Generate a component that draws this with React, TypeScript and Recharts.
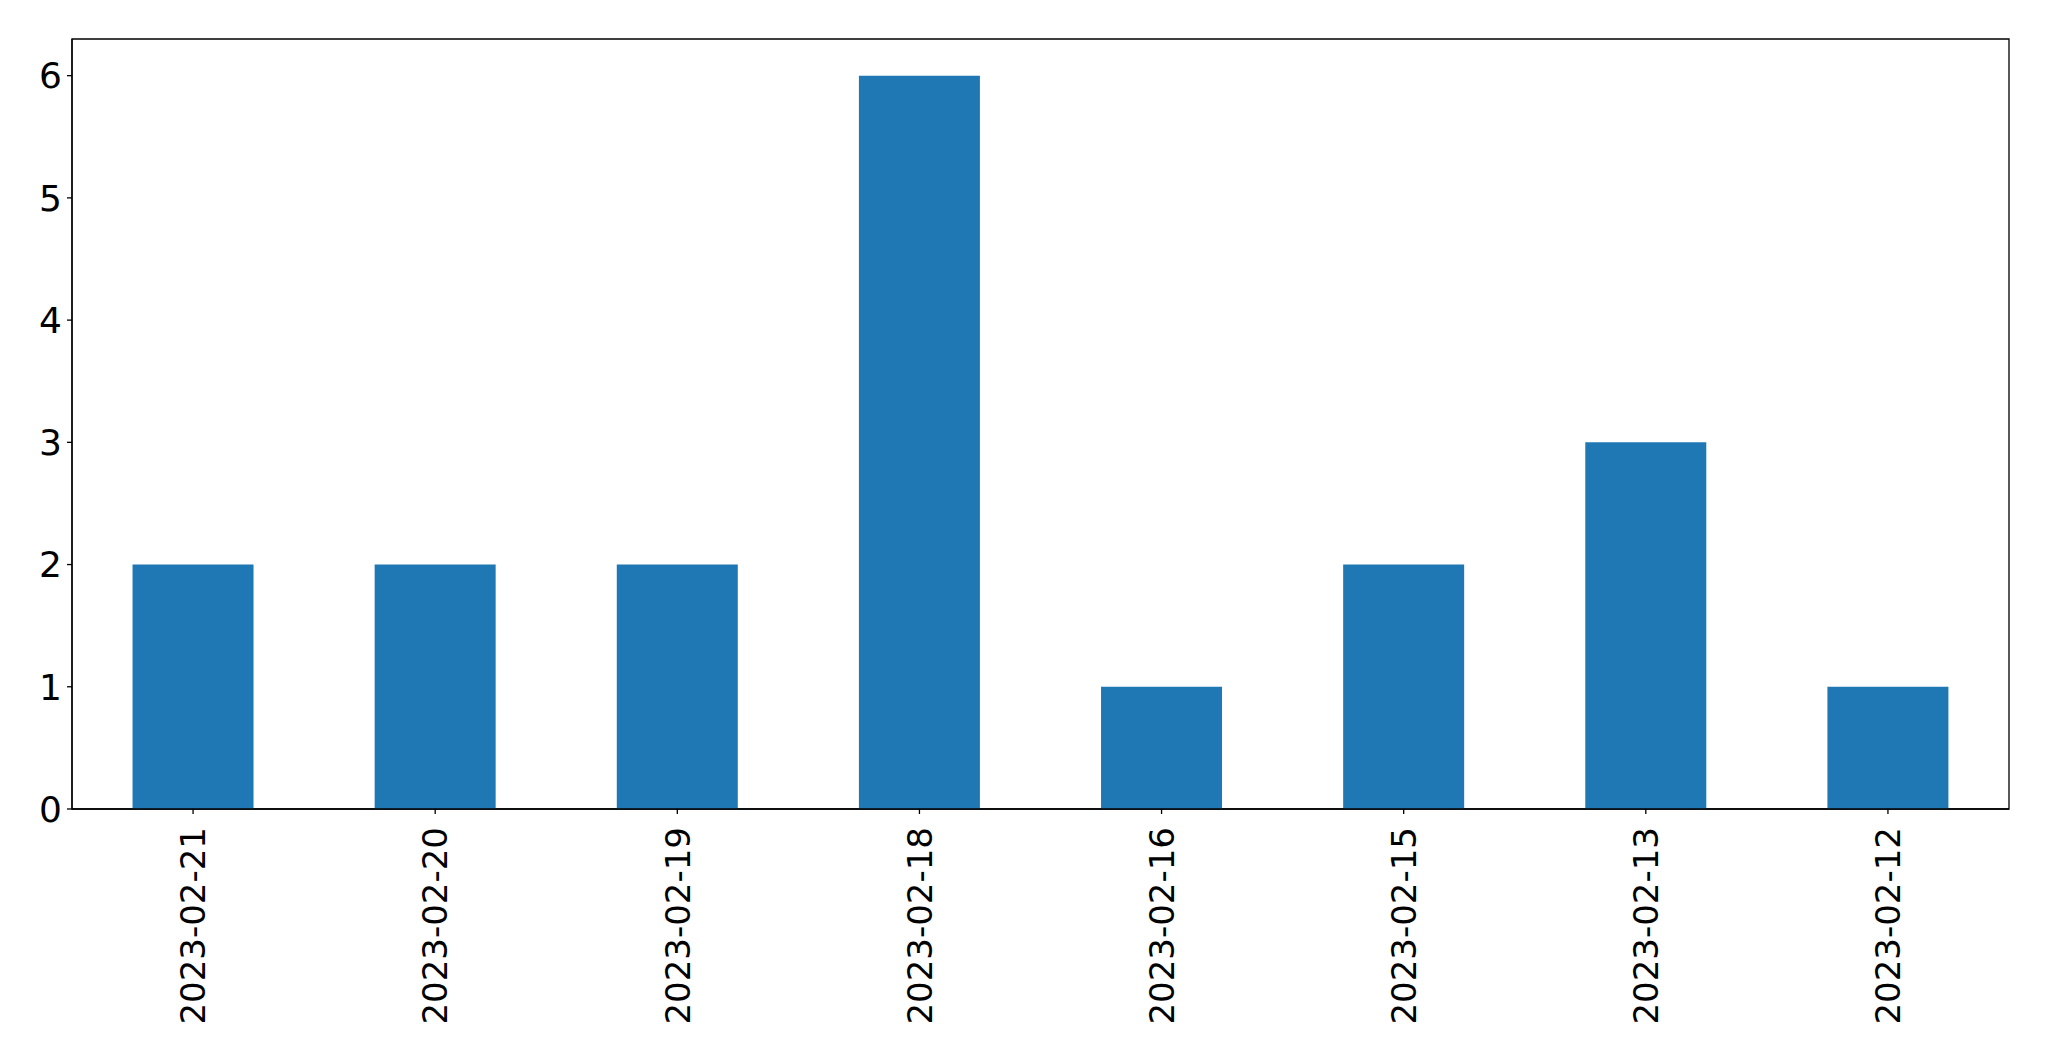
import { BarChart, Bar, XAxis, YAxis, ReferenceArea } from 'recharts';

const dates = ['2023-02-21', '2023-02-20', '2023-02-19', '2023-02-18', '2023-02-16', '2023-02-15', '2023-02-13', '2023-02-12'];
const counts = [2, 2, 2, 6, 1, 2, 3, 1];
const yTicks = [0, 1, 2, 3, 4, 5, 6];

const data = dates.map((d, i) => ({ date: d, count: counts[i] }));

const FONT = '"DejaVu Sans", sans-serif';

function DateTick({ x, y, payload }: any) {
  return (
    <g transform={`translate(${x},${y})`}>
      <text transform="rotate(-90)" textAnchor="end" dy="0.36em" fontSize={34} fontFamily={FONT} fill="#000">
        {payload.value}
      </text>
    </g>
  );
}

export default function App() {
  return (
    <div style={{ position: 'absolute', left: 0, top: 0, background: '#fff' }}>
      <BarChart
        width={2049}
        height={1061}
        data={data}
        margin={{ top: 39, right: 40, bottom: 0, left: 0 }}
        barCategoryGap="25%"
      >
        <XAxis
          dataKey="date"
          height={252}
          tick={<DateTick />}
          tickSize={5}
          tickMargin={13}
          interval={0}
          axisLine={{ stroke: '#000', strokeWidth: 1.3 }}
          tickLine={{ stroke: '#000', strokeWidth: 1.3 }}
        />
        <YAxis
          domain={[0, 6.3]}
          ticks={yTicks}
          width={72}
          tickSize={5}
          tickMargin={5}
          interval={0}
          tick={{ fontSize: 36, fontFamily: FONT, fill: '#000' }}
          axisLine={{ stroke: '#000', strokeWidth: 1.3 }}
          tickLine={{ stroke: '#000', strokeWidth: 1.3 }}
        />
        <Bar dataKey="count" fill="#1f77b4" isAnimationActive={false} />
        {/* matplotlib-style frame round the plot */}
        <ReferenceArea y1={0} y2={6.3} fill="none" stroke="#000" strokeWidth={1.3} />
      </BarChart>
    </div>
  );
}
